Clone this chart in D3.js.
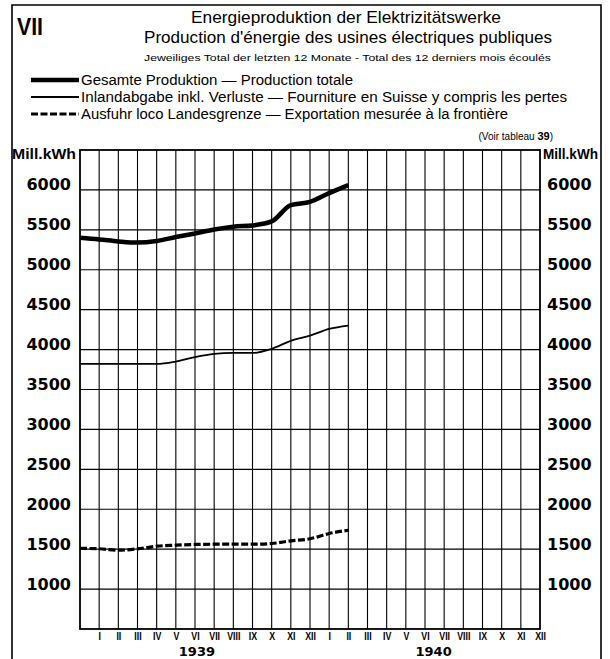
<!DOCTYPE html>
<html><head><meta charset="utf-8">
<script src="https://cdn.jsdelivr.net/npm/d3@7/dist/d3.min.js"></script>
<style>body{margin:0;background:#fff}svg{display:block}</style>
</head><body>
<svg id="c" width="610" height="659"></svg>
<script>
// ---- data ----
const monthLabels = ["I","II","III","IV","V","VI","VII","VIII","IX","X","XI","XII",
                     "I","II","III","IV","V","VI","VII","VIII","IX","X","XI","XII"];
const yearLabels = ["1939","1940"];
const yTicks = [1000,1500,2000,2500,3000,3500,4000,4500,5000,5500,6000];
// month positions 0..14 (end Dec 1938 .. end Feb 1940), Mill. kWh, 12-month rolling totals
const totalProduction = [5400,5380,5355,5340,5360,5410,5455,5505,5540,5555,5605,5810,5850,5960,6060];
const inlandSupply    = [3820,3820,3820,3820,3820,3850,3905,3945,3958,3958,4010,4110,4175,4258,4300];
const exportValues    = [1510,1505,1487,1504,1537,1550,1559,1562,1562,1562,1571,1604,1630,1696,1737];
const seriesNames = [
  "Gesamte Produktion — Production totale",
  "Inlandabgabe inkl. Verluste — Fourniture en Suisse y compris les pertes",
  "Ausfuhr loco Landesgrenze — Exportation mesurée à la frontière"
];

// ---- layout ----
const svg = d3.select("#c");
const L = 80, R = 540, T = 150, B = 629;
const x = d3.scaleLinear().domain([0, 24]).range([L, R]);
const y = d3.scaleLinear().domain([500, 6500]).range([B, T]);
const sans = "'Liberation Sans', Arial, sans-serif";
const geo = "'DejaVu Sans', sans-serif";

// outer frame
svg.append("path").attr("d", "M12,659 V5 H601 V659").attr("fill","none")
  .attr("stroke","#000").attr("stroke-width",1.6);

// header
svg.append("text").attr("x",17).attr("y",35).attr("font-family",sans).attr("font-weight","bold")
  .attr("font-size",24).attr("textLength",26).attr("lengthAdjust","spacingAndGlyphs").text("VII");
function txt(s, x0, x1, yb, size, weight) {
  return svg.append("text").attr("x",x0).attr("y",yb).attr("font-family",sans)
    .attr("font-size",size).attr("font-weight",weight||"normal")
    .attr("textLength",x1-x0).attr("lengthAdjust","spacingAndGlyphs").text(s);
}
txt("Energieproduktion der Elektrizitätswerke", 191, 501, 23, 17);
txt("Production d'énergie des usines électriques publiques", 144, 552, 43, 17);
txt("Jeweiliges Total der letzten 12 Monate  -  Total des 12 derniers mois écoulés", 144, 551, 61, 9.5);

// legend
const legY = [80, 97, 114];
const styles = [
  {w:4.5, dash:null},
  {w:1.8, dash:null},
  {w:3.2, dash:"7,2.5"}
];
const legendEnds = [353, 567, 508];
seriesNames.forEach((n,i)=>{
  svg.append("line").attr("x1",31).attr("x2",79).attr("y1",legY[i]).attr("y2",legY[i])
    .attr("stroke","#000").attr("stroke-width",styles[i].w)
    .attr("stroke-dasharray",styles[i].dash);
  txt(n, 81, legendEnds[i], legY[i]+5, 14);
});
const voir = svg.append("text").attr("x",553).attr("y",140).attr("font-family",sans)
  .attr("font-size",10).attr("text-anchor","end");
voir.append("tspan").text("(Voir tableau ");
voir.append("tspan").attr("font-weight","bold").attr("font-size",11).text("39");
voir.append("tspan").text(")");

// unit labels
svg.append("text").attr("x",12).attr("y",159).attr("font-family",sans).attr("font-weight","bold")
  .attr("font-size",15).attr("textLength",64).attr("lengthAdjust","spacingAndGlyphs").text("Mill.kWh");
svg.append("text").attr("x",543).attr("y",159).attr("font-family",sans).attr("font-weight","bold")
  .attr("font-size",15).attr("textLength",55).attr("lengthAdjust","spacingAndGlyphs").text("Mill.kWh");

// grid
const g = svg.append("g");
g.selectAll("line.v").data(d3.range(1,24)).enter().append("line")
  .attr("x1",d=>x(d)).attr("x2",d=>x(d)).attr("y1",T).attr("y2",B)
  .attr("stroke","#000").attr("stroke-width",1.1);
g.selectAll("line.h").data(yTicks).enter().append("line")
  .attr("x1",L).attr("x2",R).attr("y1",d=>y(d)).attr("y2",d=>y(d))
  .attr("stroke","#000").attr("stroke-width",1.1);
g.append("rect").attr("x",L).attr("y",T).attr("width",R-L).attr("height",B-T)
  .attr("fill","none").attr("stroke","#000").attr("stroke-width",1.8);

// y axes
function styleAxis(sel){
  sel.select(".domain").remove();
  sel.selectAll("text").attr("font-family",geo).attr("font-weight","bold")
    .attr("font-size",16).attr("dy","0").attr("fill","#000");
}
svg.append("g").attr("transform",`translate(${L},0)`)
  .call(d3.axisLeft(y).tickValues(yTicks).tickSize(0).tickPadding(9).tickFormat(d3.format("d")))
  .call(styleAxis);
svg.append("g").attr("transform",`translate(${R},0)`)
  .call(d3.axisRight(y).tickValues(yTicks).tickSize(0).tickPadding(7).tickFormat(d3.format("d")))
  .call(styleAxis);

// x axis month labels
const xa = svg.append("g").attr("transform",`translate(0,${B})`)
  .call(d3.axisBottom(x).tickValues(d3.range(1,25)).tickSize(0).tickPadding(0)
    .tickFormat(d=>monthLabels[d-1]));
xa.select(".domain").remove();
xa.selectAll("text").attr("font-family",sans).attr("font-weight","bold").attr("font-size",11)
  .attr("y",11.5).attr("dy","0").attr("fill","#000").attr("transform","scale(0.8,1)");

// years
[6.1, 18.45].forEach((p,i)=>{
  svg.append("text").attr("x",x(p)).attr("y",655.5).attr("text-anchor","middle")
    .attr("font-family",geo).attr("font-weight","bold").attr("font-size",13).text(yearLabels[i]);
});

// series lines
const line = d3.line().x((d,i)=>x(i)).y(d=>y(d)).curve(d3.curveMonotoneX);
[totalProduction, inlandSupply, exportValues].forEach((s,i)=>{
  svg.append("path").datum(s).attr("d",line).attr("fill","none").attr("stroke","#000")
    .attr("stroke-width",styles[i].w).attr("stroke-dasharray",styles[i].dash)
    .attr("stroke-linejoin","round");
});
</script>
</body></html>
